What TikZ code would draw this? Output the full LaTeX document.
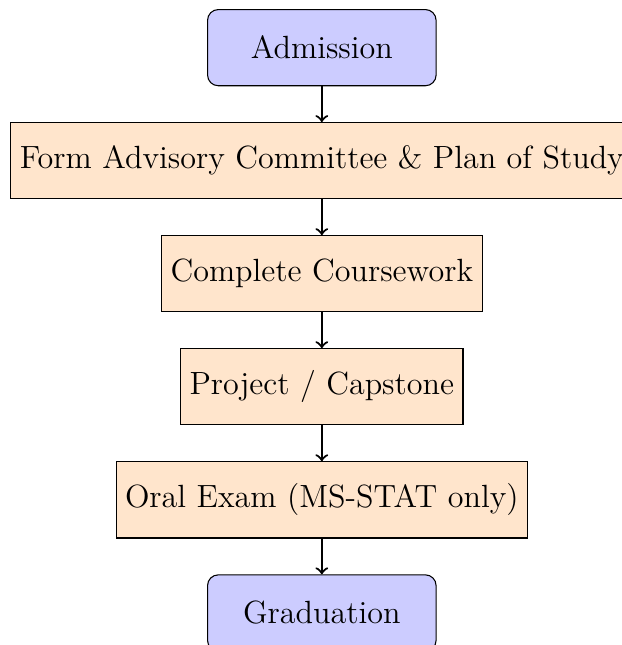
\documentclass[tikz,border=0pt]{standalone}
\usetikzlibrary{positioning}

\tikzset{
	terminal/.style={rectangle, rounded corners, draw=black, fill=blue!20,
		minimum width=3cm, minimum height=1cm, font=\large},
	stage/.style={rectangle, draw=black, fill=orange!20,
		minimum width=3cm, minimum height=1cm, font=\large},
	flowarrow/.style={thick,->}
}

\begin{document}
\begin{tikzpicture}[node distance=0.47cm]
	
	\useasboundingbox (-120.2pt,-223.1pt) rectangle (112.1pt,17.8pt);
	
	\node (admission) [terminal] {Admission};
	\node (committee) [stage, below=of admission] {Form Advisory Committee \& Plan of Study};
	\node (coursework) [stage, below=of committee] {Complete Coursework};
	\node (capstone) [stage, below=of coursework] {Project / Capstone};
	\node (oral) [stage, below=of capstone] {Oral Exam (MS-STAT only)};
	\node (graduation) [terminal, below=of oral] {Graduation};
	
	\draw[flowarrow] (admission) -- (committee);
	\draw[flowarrow] (committee) -- (coursework);
	\draw[flowarrow] (coursework) -- (capstone);
	\draw[flowarrow] (capstone) -- (oral);
	\draw[flowarrow] (oral) -- (graduation);
	
\end{tikzpicture}
\end{document}
